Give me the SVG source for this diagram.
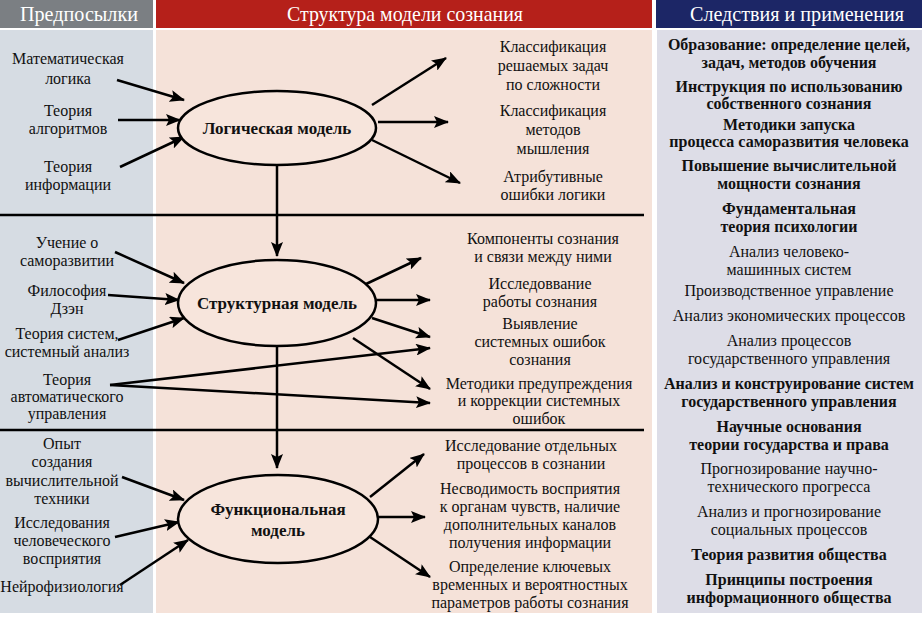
<svg xmlns="http://www.w3.org/2000/svg" width="922" height="619" viewBox="0 0 922 619" font-family="Liberation Serif" font-size="16" text-anchor="middle">
<defs>
<marker id="ah" markerUnits="userSpaceOnUse" markerWidth="16" markerHeight="12" refX="14" refY="6" orient="auto">
<path d="M0,0 L15,6 L0,12 L3,6 Z" fill="#000"/>
</marker>
</defs>
<rect width="922" height="619" fill="#fff"/>
<g id="headers" font-size="21" fill="#fff">
<rect x="0" y="0" width="153" height="28" fill="#7b7f83"/>
<rect x="156" y="0" width="496" height="28" fill="#b5201a"/>
<rect x="656" y="0" width="266" height="28" fill="#1c2666"/>
<text style="font-family:'Liberation Serif',serif" x="79" y="21" textLength="118" lengthAdjust="spacingAndGlyphs">Предпосылки</text>
<text style="font-family:'Liberation Serif',serif" x="405" y="21" textLength="236" lengthAdjust="spacingAndGlyphs">Структура модели сознания</text>
<text style="font-family:'Liberation Serif',serif" x="797" y="21" textLength="214" lengthAdjust="spacingAndGlyphs">Следствия и применения</text>
</g>
<rect x="0" y="30" width="153" height="583" fill="#d6dce3"/>
<rect x="156" y="30" width="496" height="583" fill="#f5e2d9"/>
<rect x="657" y="30" width="265" height="583" fill="#dddde7"/>
<g stroke="#000" stroke-width="2.5">
<line x1="0" y1="215" x2="644" y2="215"/>
<line x1="0" y1="430" x2="644" y2="430"/>
</g>
<g id="connectors" stroke="#000" stroke-width="2.5" fill="none" marker-end="url(#ah)">
<line x1="117" y1="80" x2="184" y2="100"/>
<line x1="118" y1="120" x2="180" y2="120"/>
<line x1="120" y1="167" x2="184" y2="137"/>
<line x1="372" y1="105" x2="446" y2="58"/>
<line x1="378" y1="122" x2="448" y2="122"/>
<line x1="372" y1="140" x2="460" y2="183"/>
<line x1="277" y1="165" x2="277" y2="256"/>
<line x1="115" y1="252" x2="184" y2="283"/>
<line x1="108" y1="295" x2="179" y2="300"/>
<line x1="118" y1="340" x2="184" y2="318"/>
<line x1="110" y1="385" x2="430" y2="348"/>
<line x1="110" y1="385" x2="430" y2="403"/>
<line x1="366" y1="284" x2="421" y2="258"/>
<line x1="377" y1="300" x2="430" y2="300"/>
<line x1="372" y1="318" x2="430" y2="337"/>
<line x1="353" y1="338" x2="430" y2="389"/>
<line x1="277" y1="346" x2="277" y2="468"/>
<line x1="122" y1="477" x2="184" y2="500"/>
<line x1="115" y1="537" x2="179" y2="522"/>
<line x1="120" y1="585" x2="188" y2="540"/>
<line x1="370" y1="497" x2="424" y2="454"/>
<line x1="377" y1="517" x2="425" y2="517"/>
<line x1="370" y1="537" x2="430" y2="577"/>
</g>
<g font-weight="bold" font-size="17" fill="#111">
<g id="logical-model">
<ellipse cx="277" cy="128" rx="99" ry="37" fill="#f7e5dc" stroke="#000" stroke-width="2.5"/>
<text style="font-family:'Liberation Serif',serif" x="277" y="134">Логическая модель</text>
</g>
<g id="structural-model">
<ellipse cx="277" cy="303" rx="99" ry="43" fill="#f7e5dc" stroke="#000" stroke-width="2.5"/>
<text style="font-family:'Liberation Serif',serif" x="277" y="309">Структурная модель</text>
</g>
<g id="functional-model">
<ellipse cx="278" cy="519" rx="100" ry="44" fill="#f7e5dc" stroke="#000" stroke-width="2.5"/>
<text style="font-family:'Liberation Serif',serif" x="278" y="515">Функциональная</text>
<text style="font-family:'Liberation Serif',serif" x="278" y="536">модель</text>
</g>
</g>
<g font-size="16" fill="#111">
<g id="pre-math-logic"><text style="font-family:'Liberation Serif',serif" x="68" y="64">Математическая</text><text style="font-family:'Liberation Serif',serif" x="68" y="84">логика</text></g>
<g id="pre-algorithms"><text style="font-family:'Liberation Serif',serif" x="68" y="116">Теория</text><text style="font-family:'Liberation Serif',serif" x="68" y="134">алгоритмов</text></g>
<g id="pre-information"><text style="font-family:'Liberation Serif',serif" x="68" y="172">Теория</text><text style="font-family:'Liberation Serif',serif" x="68" y="190">информации</text></g>
<g id="pre-selfdev"><text style="font-family:'Liberation Serif',serif" x="67" y="248">Учение о</text><text style="font-family:'Liberation Serif',serif" x="67" y="266">саморазвитии</text></g>
<g id="pre-zen"><text style="font-family:'Liberation Serif',serif" x="67" y="296">Философия</text><text style="font-family:'Liberation Serif',serif" x="67" y="314">Дзэн</text></g>
<g id="pre-systems"><text style="font-family:'Liberation Serif',serif" x="67" y="339">Теория систем,</text><text style="font-family:'Liberation Serif',serif" x="67" y="357">системный анализ</text></g>
<g id="pre-tau"><text style="font-family:'Liberation Serif',serif" x="67" y="385">Теория</text><text style="font-family:'Liberation Serif',serif" x="67" y="402">автоматического</text><text style="font-family:'Liberation Serif',serif" x="67" y="419">управления</text></g>
<g id="pre-computing"><text style="font-family:'Liberation Serif',serif" x="62" y="449">Опыт</text><text style="font-family:'Liberation Serif',serif" x="62" y="467">создания</text><text style="font-family:'Liberation Serif',serif" x="62" y="486">вычислительной</text><text style="font-family:'Liberation Serif',serif" x="62" y="504">техники</text></g>
<g id="pre-perception"><text style="font-family:'Liberation Serif',serif" x="62" y="528">Исследования</text><text style="font-family:'Liberation Serif',serif" x="62" y="546">человеческого</text><text style="font-family:'Liberation Serif',serif" x="62" y="564">восприятия</text></g>
<g id="pre-neuro"><text style="font-family:'Liberation Serif',serif" x="62" y="592">Нейрофизиология</text></g>
<g id="out-class-tasks"><text style="font-family:'Liberation Serif',serif" x="553" y="52">Классификация</text><text style="font-family:'Liberation Serif',serif" x="553" y="71">решаемых задач</text><text style="font-family:'Liberation Serif',serif" x="553" y="90">по сложности</text></g>
<g id="out-class-methods"><text style="font-family:'Liberation Serif',serif" x="553" y="116">Классификация</text><text style="font-family:'Liberation Serif',serif" x="553" y="135">методов</text><text style="font-family:'Liberation Serif',serif" x="553" y="154">мышления</text></g>
<g id="out-attr-errors"><text style="font-family:'Liberation Serif',serif" x="553" y="182">Атрибутивные</text><text style="font-family:'Liberation Serif',serif" x="553" y="200">ошибки логики</text></g>
<g id="out-components"><text style="font-family:'Liberation Serif',serif" x="543" y="244">Компоненты сознания</text><text style="font-family:'Liberation Serif',serif" x="543" y="262">и связи между ними</text></g>
<g id="out-work"><text style="font-family:'Liberation Serif',serif" x="540" y="289">Исследоввание</text><text style="font-family:'Liberation Serif',serif" x="540" y="307">работы сознания</text></g>
<g id="out-errors"><text style="font-family:'Liberation Serif',serif" x="540" y="329">Выявление</text><text style="font-family:'Liberation Serif',serif" x="540" y="347">системных ошибок</text><text style="font-family:'Liberation Serif',serif" x="540" y="365">сознания</text></g>
<g id="out-correction"><text style="font-family:'Liberation Serif',serif" x="539" y="389">Методики предупреждения</text><text style="font-family:'Liberation Serif',serif" x="539" y="406">и коррекции системных</text><text style="font-family:'Liberation Serif',serif" x="539" y="424">ошибок</text></g>
<g id="out-processes"><text style="font-family:'Liberation Serif',serif" x="531" y="451">Исследование отдельных</text><text style="font-family:'Liberation Serif',serif" x="531" y="469">процессов в сознании</text></g>
<g id="out-irreducibility"><text style="font-family:'Liberation Serif',serif" x="530" y="494">Несводимость восприятия</text><text style="font-family:'Liberation Serif',serif" x="530" y="512">к органам чувств, наличие</text><text style="font-family:'Liberation Serif',serif" x="530" y="530">дополнительных каналов</text><text style="font-family:'Liberation Serif',serif" x="530" y="548">получения информации</text></g>
<g id="out-parameters"><text style="font-family:'Liberation Serif',serif" x="530" y="572">Определение ключевых</text><text style="font-family:'Liberation Serif',serif" x="530" y="590">временных и вероятностных</text><text style="font-family:'Liberation Serif',serif" x="530" y="608">параметров работы сознания</text></g>
<g id="app-6"><text style="font-family:'Liberation Serif',serif" x="789" y="257">Анализ человеко-</text><text style="font-family:'Liberation Serif',serif" x="789" y="275">машинных систем</text></g>
<g id="app-7"><text style="font-family:'Liberation Serif',serif" x="789" y="296">Производственное управление</text></g>
<g id="app-8"><text style="font-family:'Liberation Serif',serif" x="789" y="321">Анализ экономических процессов</text></g>
<g id="app-9"><text style="font-family:'Liberation Serif',serif" x="789" y="346">Анализ процессов</text><text style="font-family:'Liberation Serif',serif" x="789" y="364">государственного управления</text></g>
<g id="app-12"><text style="font-family:'Liberation Serif',serif" x="789" y="474">Прогнозирование научно-</text><text style="font-family:'Liberation Serif',serif" x="789" y="492">технического прогресса</text></g>
<g id="app-13"><text style="font-family:'Liberation Serif',serif" x="789" y="517">Анализ и прогнозирование</text><text style="font-family:'Liberation Serif',serif" x="789" y="535">социальных процессов</text></g>
</g>
<g font-size="16" font-weight="bold" fill="#111">
<g id="app-1"><text style="font-family:'Liberation Serif',serif" x="789" y="50">Образование: определение целей,</text><text style="font-family:'Liberation Serif',serif" x="789" y="68">задач, методов обучения</text></g>
<g id="app-2"><text style="font-family:'Liberation Serif',serif" x="789" y="92">Инструкция по использованию</text><text style="font-family:'Liberation Serif',serif" x="789" y="109">собственного сознания</text></g>
<g id="app-3"><text style="font-family:'Liberation Serif',serif" x="789" y="130">Методики запуска</text><text style="font-family:'Liberation Serif',serif" x="789" y="147">процесса саморазвития человека</text></g>
<g id="app-4"><text style="font-family:'Liberation Serif',serif" x="789" y="171">Повышение вычислительной</text><text style="font-family:'Liberation Serif',serif" x="789" y="189">мощности сознания</text></g>
<g id="app-5"><text style="font-family:'Liberation Serif',serif" x="789" y="214">Фундаментальная</text><text style="font-family:'Liberation Serif',serif" x="789" y="232">теория психологии</text></g>
<g id="app-10"><text style="font-family:'Liberation Serif',serif" x="789" y="389">Анализ и конструирование систем</text><text style="font-family:'Liberation Serif',serif" x="789" y="407">государственного управления</text></g>
<g id="app-11"><text style="font-family:'Liberation Serif',serif" x="789" y="432">Научные основания</text><text style="font-family:'Liberation Serif',serif" x="789" y="450">теории государства и права</text></g>
<g id="app-14"><text style="font-family:'Liberation Serif',serif" x="789" y="560">Теория развития общества</text></g>
<g id="app-15"><text style="font-family:'Liberation Serif',serif" x="789" y="585">Принципы построения</text><text style="font-family:'Liberation Serif',serif" x="789" y="603">информационного общества</text></g>
</g>
</svg>
